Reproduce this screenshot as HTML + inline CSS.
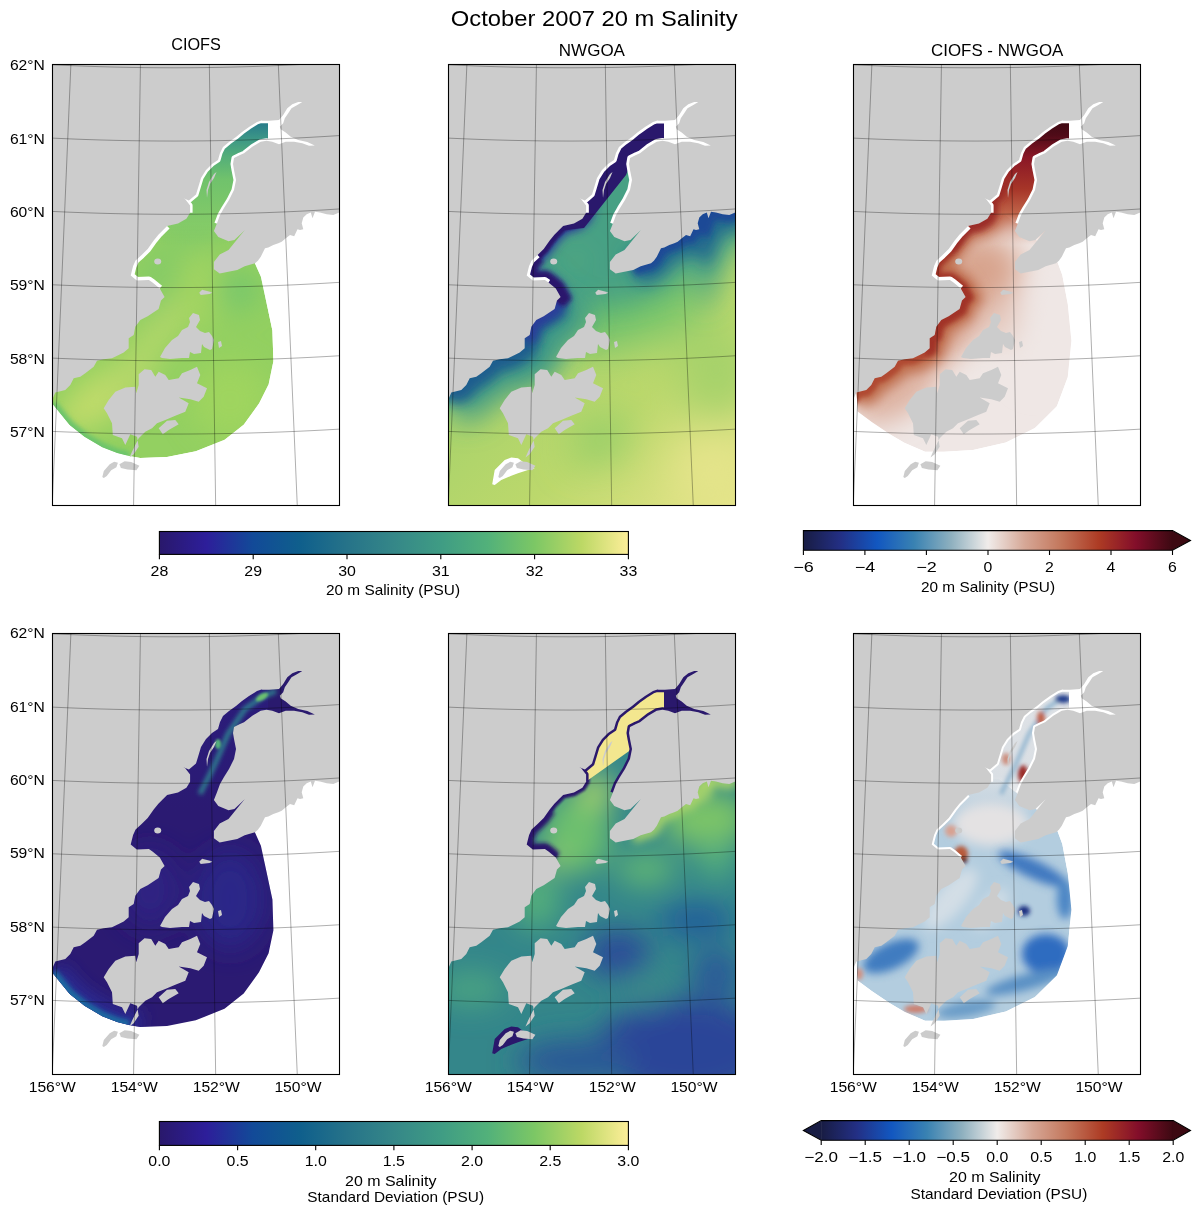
<!DOCTYPE html><html><head><meta charset="utf-8"><style>html,body{margin:0;padding:0;background:#fff;}body{width:1200px;height:1214px;overflow:hidden;}svg{display:block;font-family:"Liberation Sans",sans-serif;}</style></head><body>
<svg width="1200" height="1214" viewBox="0 0 1200 1214">
<defs>
<linearGradient id="cmH" x1="0" y1="0" x2="1" y2="0">
<stop offset="0.0" stop-color="#29186b"/>
<stop offset="0.1" stop-color="#2d1e9a"/>
<stop offset="0.2" stop-color="#124a98"/>
<stop offset="0.3" stop-color="#0f5f8c"/>
<stop offset="0.4" stop-color="#267389"/>
<stop offset="0.5" stop-color="#358788"/>
<stop offset="0.6" stop-color="#3f9c84"/>
<stop offset="0.7" stop-color="#52b17a"/>
<stop offset="0.8" stop-color="#7cc765"/>
<stop offset="0.9" stop-color="#bcd865"/>
<stop offset="1.0" stop-color="#fdee99"/>
</linearGradient>
<linearGradient id="cmB" x1="0" y1="0" x2="1" y2="0">
<stop offset="0.0" stop-color="#181c43"/>
<stop offset="0.1" stop-color="#232f84"/>
<stop offset="0.2" stop-color="#1257c0"/>
<stop offset="0.3" stop-color="#3982b2"/>
<stop offset="0.4" stop-color="#8eb0bf"/>
<stop offset="0.5" stop-color="#f0ecea"/>
<stop offset="0.6" stop-color="#d6a796"/>
<stop offset="0.7" stop-color="#c3765b"/>
<stop offset="0.8" stop-color="#ad3b24"/>
<stop offset="0.9" stop-color="#830e2a"/>
<stop offset="1.0" stop-color="#3c0912"/>
</linearGradient>
<clipPath id="clipP"><rect x="52.5" y="64.5" width="287.0" height="441.0"/></clipPath>
<g id="land" fill="#cccccc" stroke="none">
<path d="M52.0,400.3 L55.3,392.5 L65.3,390.0 L70.3,385.0 L73.7,378.3 L80.3,376.7 L85.3,373.3 L93.7,366.7 L97.0,360.8 L103.7,359.2 L112.0,358.3 L118.7,355.0 L123.7,352.5 L128.7,348.3 L128.7,338.3 L133.7,335.0 L135.3,326.7 L140.3,320.0 L147.7,316.3 L158.6,309.1 L161.0,300.6 L164.6,297.0 L159.8,288.5 L152.5,282.4 L148.9,280.0 L136.8,280.5 L130.7,275.6 L133.1,266.0 L135.6,260.5 L141.6,255.1 L147.7,249.0 L153.7,240.5 L158.6,234.5 L167.1,226.0 L178.0,223.6 L186.4,218.7 L190.1,212.7 L190.1,205.4 L185.2,199.3 L174.3,193.3 L182.8,198.1 L188.9,200.6 L196.0,194.5 L198.0,188.0 L201.0,178.0 L206.0,170.0 L212.0,164.0 L218.0,160.0 L220.0,153.0 L223.0,147.0 L229.0,142.0 L236.0,137.0 L242.0,132.0 L249.0,127.0 L257.0,122.0 L263.0,120.0 L259.8,118.8 L262.3,120.8 L269.0,120.8 L279.0,120.0 L283.2,115.0 L287.3,108.3 L292.3,104.2 L298.2,102.1 L302.3,102.1 L297.3,105.0 L291.5,108.3 L288.2,113.3 L284.8,118.3 L283.2,123.3 L279.8,126.7 L280.7,129.2 L285.7,132.5 L290.7,136.7 L298.2,140.0 L307.3,142.1 L314.8,145.4 L309.0,145.8 L302.3,143.3 L294.0,141.7 L285.7,141.7 L279.0,144.2 L272.3,141.7 L266.5,140.8 L260.7,141.7 L252.3,146.7 L244.0,153.3 L240.0,155.0 L234.0,158.0 L233.0,164.0 L234.0,170.0 L236.0,180.0 L234.0,190.0 L229.0,200.0 L224.0,208.0 L220.0,215.0 L216.8,223.7 L213.9,231.1 L218.3,236.9 L228.5,241.3 L234.4,239.9 L244.7,230.3 L240.3,235.5 L234.4,242.8 L228.5,250.1 L219.7,254.5 L213.9,261.9 L213.9,269.2 L219.7,273.6 L227.1,272.1 L237.3,269.9 L244.7,266.3 L255.0,263.3 L257.9,260.8 L260.8,256.7 L262.5,253.3 L265.0,248.3 L268.3,247.5 L273.3,245.0 L278.3,243.3 L281.7,241.7 L285.8,238.3 L290.0,235.0 L294.2,236.2 L297.5,229.2 L300.0,230.0 L303.3,229.2 L301.7,223.3 L303.3,217.5 L306.7,214.2 L310.8,212.5 L312.5,218.3 L315.0,211.7 L320.0,212.5 L326.7,214.2 L333.3,215.0 L339.2,212.5 L341.2,212.1 L346,209 L346,58 L46,58 L46,400 Z"/>
<path d="M160.0,357.0 L165.0,348.0 L172.0,340.0 L178.0,336.0 L182.0,330.0 L188.0,327.0 L190.0,322.0 L189.0,318.0 L193.0,313.0 L199.0,315.0 L200.0,320.0 L196.0,327.0 L200.0,331.0 L205.0,333.0 L209.0,332.0 L212.0,336.0 L214.0,340.0 L212.0,349.0 L210.0,350.0 L204.0,347.0 L202.0,344.0 L201.0,353.0 L194.0,354.0 L190.0,352.0 L189.0,358.0 L182.0,358.0 L170.0,359.0 L162.0,358.0 Z"/>
<path d="M103.7,408.3 L108.7,400.0 L115.3,391.7 L125.3,387.5 L135.3,386.7 L136.2,393.3 L138.7,385.0 L138.7,374.2 L144.5,369.2 L151.2,370.0 L155.3,376.7 L158.7,371.7 L165.3,375.0 L168.7,380.0 L178.7,378.3 L182.0,373.3 L190.3,370.0 L197.0,366.7 L200.3,375.0 L197.0,383.3 L207.0,388.3 L203.7,396.7 L198.7,401.7 L190.3,399.2 L178.7,397.5 L188.7,403.3 L185.3,411.7 L175.3,415.8 L165.3,420.0 L157.0,423.3 L152.0,428.3 L145.3,431.7 L138.7,438.3 L135.3,445.0 L132.0,451.7 L129.5,457.5 L133.7,454.2 L138.7,446.7 L137.0,436.7 L130.3,434.2 L125.3,445.0 L122.0,438.3 L112.8,435.0 L112.0,423.3 L107.0,413.3 Z"/>
<path d="M158.7,428.3 L167.0,420.8 L175.3,420.0 L178.7,424.2 L168.7,430.0 L162.8,434.2 Z"/>
<path d="M218.0,342.0 L221.0,341.0 L222.0,346.0 L219.0,348.0 Z"/>
<path d="M102.3,476.9 L103.8,470.9 L109.7,464.3 L114.2,461.8 L117.9,462.8 L116.4,467.2 L111.2,470.2 L106.8,476.1 L103.8,478.1 Z"/>
<path d="M119.4,464.3 L124.6,461.3 L131.2,462.0 L139.4,465.8 L136.4,470.2 L127.5,469.5 L120.9,468.0 Z"/>
<path d="M199.2,292.7 L202.1,289.7 L208.0,291.2 L212.4,292.7 L209.5,294.1 L200.7,294.9 Z"/>
<path d="M207.0,198.0 L208.0,190.0 L210.0,184.0 L214.0,178.0 L216.5,172.0 L214.0,174.0 L209.0,182.0 L206.5,190.0 Z"/>
<ellipse cx="157.7" cy="261.5" rx="3.5" ry="3"/>
</g>
<g id="grid" fill="none" stroke="#000" stroke-opacity="0.45" stroke-width="0.7">
<path d="M40,64.1087057744644 L55,64.89042656634956 L70,65.57909749300643 L85,66.17479782385999 L100,66.67759605434821 L115,67.08754994538504 L130,67.40470655659601 L145,67.6291022733576 L160,67.76076282768372 L175,67.79970331298682 L190,67.7459281927313 L205,67.59943130299143 L220,67.36019584891801 L235,67.02819439511086 L250,66.6033888498755 L265,66.08573044335935 L280,65.47515969951746 L295,64.7716064018905 L310,63.97498955313222 L325,63.085217328242834 L340,62.102187021440386 L355,61.02578498659841"/>
<path d="M40,137.46701610495984 L55,138.22577323316955 L70,138.89422564287133 L85,139.4724458156429 L100,139.96049638644763 L115,140.35843017763273 L130,140.66629022755797 L145,140.88410981389325 L160,141.01191247161887 L175,141.04971200574346 L190,140.99751249876272 L205,140.85530831286314 L220,140.62308408687886 L235,140.3008147279911 L250,139.88846539816586 L265,139.38599149530955 L280,138.79333862911926 L295,138.1104425915969 L310,137.33722932219234 L325,136.47361486752652 L340,135.51950533564695 L355,134.47479684475684"/>
<path d="M40,210.81914733313488 L55,211.55625303162742 L70,212.2056413285968 L85,212.76737867171823 L100,213.2415224857873 L115,213.62812120212993 L130,213.92721428337336 L145,214.13883224360825 L160,214.26299666396335 L175,214.29972020361447 L190,214.24900660623962 L205,214.11085070192803 L220,213.88523840454263 L235,213.57214670453914 L250,213.17154365722672 L265,212.6833883664608 L280,212.10763096374467 L295,211.44421258271996 L310,210.6930653290092 L325,209.8541122453803 L340,208.92726727218678 L355,207.91243520303988"/>
<path d="M40,284.16561389936396 L55,284.8822709228184 L70,285.51365330186945 L85,286.0598221023283 L100,286.52083010132446 L115,286.8967218128528 L130,287.1875335092941 L145,287.3932932389321 L160,287.51402083948915 L175,287.54972794769174 L190,287.50041800487907 L205,287.3660862586644 L220,287.1467197606412 L235,286.8422973601432 L250,286.452789694044 L265,285.97815917258595 L280,285.41835996122245 L295,284.773337958457 L310,284.043030769647 L325,283.2273676767486 L340,282.32626960396556 L355,281.339649079262"/>
<path d="M40,357.50687464618795 L55,358.20418813161723 L70,358.81853698881105 L85,359.34997746794943 L100,359.79855818705346 L115,360.1643201542638 L130,360.44729678660997 L145,360.64751392528797 L160,360.7649898474683 L175,360.7997352746397 L190,360.7517533775026 L205,360.62103977741754 L220,360.40758254440425 L235,360.11136219169975 L250,359.73235166685754 L265,359.27051633938754 L280,358.72581398492093 L295,358.09819476587927 L310,357.3876012086348 L325,356.59396817712786 L340,355.71722284292446 L355,354.7572846516691"/>
<path d="M40,430.84334013578655 L55,431.5223278984886 L70,432.12053886964895 L85,432.63802497745064 L100,433.0748311067882 L115,433.43099511876926 L130,433.7065478671402 L145,433.90151321166377 L160,434.0159080284525 L175,434.0497422172775 L190,434.0030187058519 L205,433.8757334510965 L220,433.6678754373929 L235,433.3794266718128 L250,433.0103621763301 L265,432.5606499769983 L280,432.0302510900883 L295,431.4191195051685 L310,430.72720216511516 L325,429.95443894302434 L340,429.10076261601444 L355,428.1660988358767"/>
<line x1="71.3" y1="54.5" x2="51.8" y2="515.5"/>
<line x1="140.6" y1="54.5" x2="133.4" y2="515.5"/>
<line x1="209.2" y1="54.5" x2="215.8" y2="515.5"/>
<line x1="277.9" y1="54.5" x2="297.7" y2="515.5"/>
</g>
</defs>
<defs>
<filter id="b1" filterUnits="userSpaceOnUse" x="-200" y="-200" width="800" height="900"><feGaussianBlur stdDeviation="1"/></filter>
<filter id="b2" filterUnits="userSpaceOnUse" x="-200" y="-200" width="800" height="900"><feGaussianBlur stdDeviation="2"/></filter>
<filter id="b3" filterUnits="userSpaceOnUse" x="-200" y="-200" width="800" height="900"><feGaussianBlur stdDeviation="3"/></filter>
<filter id="b4" filterUnits="userSpaceOnUse" x="-200" y="-200" width="800" height="900"><feGaussianBlur stdDeviation="4"/></filter>
<filter id="b5" filterUnits="userSpaceOnUse" x="-200" y="-200" width="800" height="900"><feGaussianBlur stdDeviation="5"/></filter>
<filter id="b6" filterUnits="userSpaceOnUse" x="-200" y="-200" width="800" height="900"><feGaussianBlur stdDeviation="6"/></filter>
<filter id="b8" filterUnits="userSpaceOnUse" x="-200" y="-200" width="800" height="900"><feGaussianBlur stdDeviation="8"/></filter>
<filter id="b10" filterUnits="userSpaceOnUse" x="-200" y="-200" width="800" height="900"><feGaussianBlur stdDeviation="10"/></filter>
<filter id="b14" filterUnits="userSpaceOnUse" x="-200" y="-200" width="800" height="900"><feGaussianBlur stdDeviation="14"/></filter>
<filter id="b20" filterUnits="userSpaceOnUse" x="-200" y="-200" width="800" height="900"><feGaussianBlur stdDeviation="20"/></filter>
<clipPath id="cDom1"><path d="M46,380 L52.6,404 L69.7,425.0 L84.5,436.8 L102.3,447.2 L117.2,453.1 L129.0,456.1 L140.2,458.0 L167.0,457.0 L195.8,451.3 L224.5,439.8 L243.7,424.4 L259.0,403.3 L268.6,384.2 L273.4,361.2 L272.4,330.5 L266.7,303.7 L260.9,276.8 L253.3,259.6 L250,245 L240,205 L150,205 L46,300 Z"/></clipPath>
<clipPath id="cDom3"><path d="M52,384.3 L55.6,391.6 L56.6,411.6 L70.7,422 L88.5,433.9 L103.3,442.8 L124.1,451.7 L143.0,451.7 L172.1,449.9 L204.9,442.6 L234.0,428.0 L255.9,406.2 L266.8,377.1 L270.4,340.7 L266.8,304.3 L261.3,275.1 L255.9,260.6 L234.0,238.7 L197.6,209.6 L161.2,209.6 Z"/></clipPath>
<clipPath id="cCH1"><path d="M185.6,225.1 L188.0,218.7 L191.2,210.8 L197.5,195.0 L203.8,179.2 L210.2,169.7 L221.2,163.3 L222.8,150.7 L229.2,142.7 L238.7,138.0 L246.6,130.1 L254.5,126.1 L268.7,126.1 L276.7,124.5 L270.3,130.1 L264.0,134.8 L252.9,139.6 L240.2,147.5 L232.3,157.0 L230.7,163.3 L232.3,176.0 L229.2,195.0 L222.8,207.7 L218.1,217.2 L215.7,225.1 Z"/></clipPath>
<clipPath id="cCH2"><path d="M190.5,220.0 L191.0,208.0 L195.0,196.0 L202.0,188.0 L201.0,182.0 L204.0,176.0 L212.0,171.0 L219.0,164.0 L221.0,153.0 L228.0,145.0 L234.0,140.0 L242.0,134.0 L251.0,127.5 L269.0,127.5 L268.0,135.0 L262.0,138.0 L253.0,140.0 L249.0,146.0 L242.0,153.0 L234.0,158.0 L232.0,161.0 L233.0,167.0 L232.0,176.0 L224.0,188.0 L212.0,202.0 L202.0,210.0 L194.0,216.0 Z"/></clipPath>
<clipPath id="cUp"><path d="M150,245 L250,245 L250,150 L268,150 L268,100 L150,100 Z"/></clipPath>
<clipPath id="cUPW"><path d="M268,112 L300,95 L340,95 L340,160 L268,150 Z"/></clipPath>
<linearGradient id="g2base" gradientUnits="userSpaceOnUse" x1="150" y1="200" x2="330" y2="500">
<stop offset="0" stop-color="#1d6a8c"/>
<stop offset="0.22" stop-color="#3c9a86"/>
<stop offset="0.45" stop-color="#62bb70"/>
<stop offset="0.7" stop-color="#9ed36a"/>
<stop offset="1" stop-color="#e4e48c"/>
</linearGradient>
<linearGradient id="g1ch" gradientUnits="userSpaceOnUse" x1="0" y1="125" x2="0" y2="225">
<stop offset="0" stop-color="#2f8489"/>
<stop offset="0.35" stop-color="#44a084"/>
<stop offset="0.7" stop-color="#64bc72"/>
<stop offset="1" stop-color="#7cc76a"/>
</linearGradient>
<linearGradient id="g3ch" gradientUnits="userSpaceOnUse" x1="0" y1="120" x2="0" y2="250">
<stop offset="0" stop-color="#3e0a15"/>
<stop offset="0.25" stop-color="#6a1020"/>
<stop offset="0.5" stop-color="#952a25"/>
<stop offset="0.8" stop-color="#b55638"/>
<stop offset="1" stop-color="#c98a70"/>
</linearGradient>
</defs>
<defs>
<linearGradient id="g1up" gradientUnits="userSpaceOnUse" x1="0" y1="125" x2="0" y2="245">
<stop offset="0" stop-color="#2b7f8a" stop-opacity="1"/>
<stop offset="0.1" stop-color="#3a9487" stop-opacity="1"/>
<stop offset="0.25" stop-color="#52ad7a" stop-opacity="1"/>
<stop offset="0.45" stop-color="#70c26c" stop-opacity="1"/>
<stop offset="0.8" stop-color="#82ca68" stop-opacity="1"/>
<stop offset="1" stop-color="#86cb66" stop-opacity="0"/>
</linearGradient>
<linearGradient id="g3up" gradientUnits="userSpaceOnUse" x1="0" y1="120" x2="0" y2="245">
<stop offset="0" stop-color="#3c0912" stop-opacity="1"/>
<stop offset="0.12" stop-color="#4f0b18" stop-opacity="1"/>
<stop offset="0.3" stop-color="#8a1726" stop-opacity="1"/>
<stop offset="0.55" stop-color="#a63528" stop-opacity="1"/>
<stop offset="0.75" stop-color="#c0654a" stop-opacity="1"/>
<stop offset="1" stop-color="#d49a84" stop-opacity="0"/>
</linearGradient>
<linearGradient id="g5up" gradientUnits="userSpaceOnUse" x1="0" y1="100" x2="0" y2="250">
<stop offset="0" stop-color="#f3e78f" stop-opacity="1"/>
<stop offset="1" stop-color="#f3e78f" stop-opacity="1"/>
</linearGradient>
<linearGradient id="g6up" gradientUnits="userSpaceOnUse" x1="0" y1="120" x2="0" y2="245">
<stop offset="0" stop-color="#dfe2e6" stop-opacity="1"/>
<stop offset="0.7" stop-color="#dadfe4" stop-opacity="1"/>
<stop offset="1" stop-color="#e0e0e2" stop-opacity="0"/>
</linearGradient>
<linearGradient id="g4up" gradientUnits="userSpaceOnUse" x1="0" y1="120" x2="0" y2="245">
<stop offset="0" stop-color="#2b1c7a" stop-opacity="1"/>
<stop offset="0.7" stop-color="#2b1b76" stop-opacity="1"/>
<stop offset="1" stop-color="#2b1a72" stop-opacity="0"/>
</linearGradient>
</defs>
<g transform="translate(0,0)"><g clip-path="url(#clipP)">
<rect x="52.5" y="64.5" width="287.0" height="441.0" fill="#fff"/>
<g clip-path="url(#cDom1)">
<path d="M46,380 L52.6,404 L69.7,425.0 L84.5,436.8 L102.3,447.2 L117.2,453.1 L129.0,456.1 L140.2,458.0 L167.0,457.0 L195.8,451.3 L224.5,439.8 L243.7,424.4 L259.0,403.3 L268.6,384.2 L273.4,361.2 L272.4,330.5 L266.7,303.7 L260.9,276.8 L253.3,259.6 L250,245 L240,205 L150,205 L46,300 Z" fill="#93d061"/>
<g filter="url(#b14)">
<ellipse cx="105" cy="395" rx="55" ry="22" fill="#c2db6a" transform="rotate(-35 105 395)"/>
<ellipse cx="165" cy="290" rx="30" ry="45" fill="#86cb66"/>
<ellipse cx="195" cy="225" rx="30" ry="25" fill="#82ca68"/>
<ellipse cx="235" cy="290" rx="25" ry="20" fill="#76c66c"/>
<ellipse cx="230" cy="400" rx="40" ry="40" fill="#9fd45e"/>
<ellipse cx="150" cy="345" rx="75" ry="14" fill="#b4d76a" transform="rotate(-52 150 345)"/>
<ellipse cx="200" cy="290" rx="20" ry="40" fill="#a2d460"/>
</g>
<path d="M52.6,404 L69.7,425.0 L84.5,436.8 L102.3,447.2 L117.2,453.1 L129.0,456.1" fill="none" stroke="#6cc46c" stroke-width="9" filter="url(#b2)"/>
</g>
<path d="M150,245 L250,245 L250,150 L268,150 L268,100 L150,100 Z" fill="url(#g1up)"/>
<path d="M190.1,212.7 L190.1,205.4 L185.2,199.3 L174.3,193.3 L182.8,198.1 L188.9,200.6 L196.0,194.5 L198.0,188.0 L201.0,178.0 L206.0,170.0 L212.0,164.0 L218.0,160.0 L220.0,153.0 L223.0,147.0 L229.0,142.0 L236.0,137.0 L242.0,132.0 L249.0,127.0 L257.0,122.0 L263.0,120.0 L259.8,118.8 L262.3,120.8 L269.0,120.8 L279.0,120.0 L283.2,115.0 L287.3,108.3 L292.3,104.2 L298.2,102.1 L302.3,102.1 L297.3,105.0 L291.5,108.3 L288.2,113.3 L284.8,118.3 L283.2,123.3 L279.8,126.7 L280.7,129.2 L285.7,132.5 L290.7,136.7 L298.2,140.0 L307.3,142.1 L314.8,145.4 L309.0,145.8 L302.3,143.3 L294.0,141.7 L285.7,141.7 L279.0,144.2 L272.3,141.7 L266.5,140.8 L260.7,141.7 L252.3,146.7 L244.0,153.3 L240.0,155.0 L234.0,158.0 L233.0,164.0 L234.0,170.0 L236.0,180.0 L234.0,190.0 L229.0,200.0 L224.0,208.0 L220.0,215.0 L216.8,223.7" fill="none" stroke="#fff" stroke-width="5" stroke-linejoin="round"/>
<path d="M159.8,288.5 L152.5,282.4 L148.9,280.0 L136.8,280.5 L130.7,275.6 L133.1,266.0 L135.6,260.5 L141.6,255.1 L147.7,249.0 L153.7,240.5 L158.6,234.5 L167.1,226.0" fill="none" stroke="#fff" stroke-width="7" stroke-linejoin="round"/>
<path d="M268,112 L300,95 L340,95 L340,160 L268,150 Z" fill="#fff"/>
<use href="#land"/>
<use href="#grid"/>
</g>
<rect x="52.5" y="64.5" width="287.0" height="441.0" fill="none" stroke="#000" stroke-width="1.1"/>
</g>
<linearGradient id="g2b" gradientUnits="userSpaceOnUse" x1="150" y1="300" x2="340" y2="505">
<stop offset="0" stop-color="#a6d26a"/>
<stop offset="0.5" stop-color="#bcd86c"/>
<stop offset="1" stop-color="#e6e48a"/>
</linearGradient>
<g transform="translate(396,0)"><g clip-path="url(#clipP)">
<rect x="52.5" y="64.5" width="287.0" height="441.0" fill="#fff"/>
<rect x="52.5" y="64.5" width="287.0" height="441.0" fill="url(#g2b)"/>
<g filter="url(#b20)">
<ellipse cx="250" cy="290" rx="60" ry="50" fill="#78c66a"/>
<ellipse cx="205" cy="300" rx="40" ry="50" fill="#6cc06c"/>
<ellipse cx="320" cy="370" rx="40" ry="50" fill="#a6d26a"/>
<ellipse cx="205" cy="440" rx="30" ry="18" fill="#88cb68" transform="rotate(-30 205 440)"/>
<ellipse cx="315" cy="470" rx="40" ry="40" fill="#e4e48a"/>
</g>
<path d="M112.0,358.3 L118.7,355.0 L123.7,352.5 L128.7,348.3 L128.7,338.3 L133.7,335.0 L135.3,326.7 L140.3,320.0 L147.7,316.3 L158.6,309.1 L161.0,300.6 L164.6,297.0 L159.8,288.5 L152.5,282.4 L148.9,280.0 L136.8,280.5 L130.7,275.6 L133.1,266.0 L135.6,260.5 L141.6,255.1 L147.7,249.0 L153.7,240.5 L158.6,234.5 L167.1,226.0 L178.0,223.6 L186.4,218.7 L190.1,212.7 L190.1,205.4 L185.2,199.3 L174.3,193.3 L182.8,198.1 L188.9,200.6 L196.0,194.5 L198.0,188.0 L201.0,178.0 L206.0,170.0 L212.0,164.0 L218.0,160.0 L220.0,153.0 L223.0,147.0 L229.0,142.0 L236.0,137.0 L242.0,132.0 L249.0,127.0 L257.0,122.0 L263.0,120.0 L259.8,118.8 L262.3,120.8 L269.0,120.8 L279.0,120.0 L283.2,115.0 L287.3,108.3 L292.3,104.2 L298.2,102.1 L302.3,102.1 L297.3,105.0 L291.5,108.3 L288.2,113.3 L284.8,118.3 L283.2,123.3 L279.8,126.7 L280.7,129.2 L285.7,132.5 L290.7,136.7 L298.2,140.0 L307.3,142.1 L314.8,145.4 L309.0,145.8 L302.3,143.3 L294.0,141.7 L285.7,141.7 L279.0,144.2 L272.3,141.7 L266.5,140.8 L260.7,141.7 L252.3,146.7 L244.0,153.3 L240.0,155.0 L234.0,158.0 L233.0,164.0 L234.0,170.0 L236.0,180.0 L234.0,190.0 L229.0,200.0 L224.0,208.0 L220.0,215.0 L216.8,223.7 L213.9,231.1 L218.3,236.9 L228.5,241.3 L234.4,239.9 L244.7,230.3 L240.3,235.5 L234.4,242.8 L228.5,250.1 L219.7,254.5 L213.9,261.9 L213.9,269.2 L219.7,273.6 L227.1,272.1 L237.3,269.9 L244.7,266.3 L255.0,263.3 L257.9,260.8 L260.8,256.7 L262.5,253.3 L265.0,248.3 L268.3,247.5 L273.3,245.0 L278.3,243.3 L281.7,241.7 L285.8,238.3 L290.0,235.0 L294.2,236.2 L297.5,229.2 L300.0,230.0 L303.3,229.2 L301.7,223.3 L303.3,217.5 L306.7,214.2 L310.8,212.5 L312.5,218.3 L315.0,211.7 L320.0,212.5 L326.7,214.2 L333.3,215.0 L339.2,212.5 L341.2,212.1 L346,209" fill="none" stroke="#46a084" stroke-width="60" filter="url(#b14)"/>
<path d="M52.0,400.3 L55.3,392.5 L65.3,390.0 L70.3,385.0 L73.7,378.3 L80.3,376.7 L85.3,373.3 L93.7,366.7 L97.0,360.8 L103.7,359.2 L112.0,358.3 L118.7,355.0 L123.7,352.5 L128.7,348.3 L128.7,338.3 L133.7,335.0 L135.3,326.7 L140.3,320.0 L147.7,316.3 L158.6,309.1 L161.0,300.6 L164.6,297.0" fill="none" stroke="#3f9a86" stroke-width="64" filter="url(#b14)"/>
<path d="M52.0,400.3 L55.3,392.5 L65.3,390.0 L70.3,385.0 L73.7,378.3 L80.3,376.7 L85.3,373.3 L93.7,366.7 L97.0,360.8 L103.7,359.2 L112.0,358.3 L118.7,355.0 L123.7,352.5 L128.7,348.3 L128.7,338.3 L133.7,335.0 L135.3,326.7 L140.3,320.0 L147.7,316.3 L158.6,309.1 L161.0,300.6 L164.6,297.0" fill="none" stroke="#1c5d8e" stroke-width="24" filter="url(#b6)"/>
<path d="M237.3,269.9 L244.7,266.3 L255.0,263.3 L257.9,260.8 L260.8,256.7 L262.5,253.3 L265.0,248.3 L268.3,247.5 L273.3,245.0 L278.3,243.3 L281.7,241.7 L285.8,238.3 L290.0,235.0 L294.2,236.2 L297.5,229.2 L300.0,230.0 L303.3,229.2 L301.7,223.3 L303.3,217.5 L306.7,214.2 L310.8,212.5 L312.5,218.3 L315.0,211.7 L320.0,212.5 L326.7,214.2 L333.3,215.0 L339.2,212.5 L341.2,212.1 L346,209" fill="none" stroke="#20688e" stroke-width="34" filter="url(#b8)"/>
<path d="M237.3,269.9 L244.7,266.3 L255.0,263.3 L257.9,260.8 L260.8,256.7 L262.5,253.3 L265.0,248.3 L268.3,247.5 L273.3,245.0 L278.3,243.3 L281.7,241.7 L285.8,238.3 L290.0,235.0 L294.2,236.2 L297.5,229.2 L300.0,230.0 L303.3,229.2 L301.7,223.3 L303.3,217.5 L306.7,214.2 L310.8,212.5 L312.5,218.3 L315.0,211.7 L320.0,212.5 L326.7,214.2 L333.3,215.0 L339.2,212.5 L341.2,212.1 L346,209" fill="none" stroke="#1c4a96" stroke-width="14" filter="url(#b3)"/>
<path d="M128.7,338.3 L133.7,335.0 L135.3,326.7 L140.3,320.0 L147.7,316.3 L158.6,309.1 L161.0,300.6 L164.6,297.0 L159.8,288.5 L152.5,282.4 L148.9,280.0 L136.8,280.5 L130.7,275.6 L133.1,266.0 L135.6,260.5 L141.6,255.1 L147.7,249.0 L153.7,240.5 L158.6,234.5 L167.1,226.0 L178.0,223.6 L186.4,218.7 L190.1,212.7 L190.1,205.4 L185.2,199.3 L174.3,193.3 L182.8,198.1 L188.9,200.6 L196.0,194.5 L198.0,188.0 L201.0,178.0 L206.0,170.0 L212.0,164.0 L218.0,160.0 L220.0,153.0 L223.0,147.0" fill="none" stroke="#2b3d9a" stroke-width="16" filter="url(#b4)"/>
<path d="M161.0,300.6 L164.6,297.0 L159.8,288.5 L152.5,282.4 L148.9,280.0 L136.8,280.5 L130.7,275.6 L133.1,266.0 L135.6,260.5 L141.6,255.1 L147.7,249.0 L153.7,240.5 L158.6,234.5 L167.1,226.0 L178.0,223.6 L186.4,218.7 L190.1,212.7 L190.1,205.4 L185.2,199.3 L174.3,193.3 L182.8,198.1 L188.9,200.6 L196.0,194.5 L198.0,188.0 L201.0,178.0 L206.0,170.0 L212.0,164.0 L218.0,160.0 L220.0,153.0 L223.0,147.0" fill="none" stroke="#2a186c" stroke-width="10" filter="url(#b1)"/>
<path d="M161.0,300.6 L164.6,297.0 L159.8,288.5 L152.5,282.4 L148.9,280.0 L136.8,280.5 L130.7,275.6 L133.1,266.0 L135.6,260.5 L141.6,255.1" fill="none" stroke="#2a186c" stroke-width="18" filter="url(#b2)"/>
<path d="M150,232 L188,228 L230,175 L236,160 L268,150 L268,100 L150,100 Z" fill="#2a186c"/>
<path d="M190.1,212.7 L190.1,205.4 L185.2,199.3 L174.3,193.3 L182.8,198.1 L188.9,200.6 L196.0,194.5 L198.0,188.0 L201.0,178.0 L206.0,170.0 L212.0,164.0 L218.0,160.0 L220.0,153.0 L223.0,147.0 L229.0,142.0 L236.0,137.0 L242.0,132.0 L249.0,127.0 L257.0,122.0 L263.0,120.0 L259.8,118.8 L262.3,120.8 L269.0,120.8 L279.0,120.0 L283.2,115.0 L287.3,108.3 L292.3,104.2 L298.2,102.1 L302.3,102.1 L297.3,105.0 L291.5,108.3 L288.2,113.3 L284.8,118.3 L283.2,123.3 L279.8,126.7 L280.7,129.2 L285.7,132.5 L290.7,136.7 L298.2,140.0 L307.3,142.1 L314.8,145.4 L309.0,145.8 L302.3,143.3 L294.0,141.7 L285.7,141.7 L279.0,144.2 L272.3,141.7 L266.5,140.8 L260.7,141.7 L252.3,146.7 L244.0,153.3 L240.0,155.0 L234.0,158.0 L233.0,164.0 L234.0,170.0 L236.0,180.0 L234.0,190.0 L229.0,200.0 L224.0,208.0 L220.0,215.0 L216.8,223.7" fill="none" stroke="#fff" stroke-width="5.5" stroke-linejoin="round"/>
<path d="M152.5,282.4 L148.9,280.0 L136.8,280.5 L130.7,275.6 L133.1,266.0 L135.6,260.5 L141.6,255.1" fill="none" stroke="#fff" stroke-width="6" stroke-linejoin="round"/>
<path d="M268,112 L300,95 L340,95 L340,160 L268,150 Z" fill="#fff"/>
<path d="M96.2,484.2 L98.7,470.0 L108.7,460.0 L115.3,457.5 L122.0,458.3 L128.7,463.3 L135.3,466.7 L138.7,468.3 L132.0,470.0 L122.0,473.3 L115.3,475.8 L105.3,480.0 L98.7,485.0 Z" fill="#fff"/>
<use href="#land"/>
<use href="#grid"/>
</g>
<rect x="52.5" y="64.5" width="287.0" height="441.0" fill="none" stroke="#000" stroke-width="1.1"/>
</g>
<g transform="translate(801,0)"><g clip-path="url(#clipP)">
<rect x="52.5" y="64.5" width="287.0" height="441.0" fill="#fff"/>
<g clip-path="url(#cDom3)">
<path d="M52,384.3 L55.6,391.6 L56.6,411.6 L70.7,422 L88.5,433.9 L103.3,442.8 L124.1,451.7 L143.0,451.7 L172.1,449.9 L204.9,442.6 L234.0,428.0 L255.9,406.2 L266.8,377.1 L270.4,340.7 L266.8,304.3 L261.3,275.1 L255.9,260.6 L234.0,238.7 L197.6,209.6 L161.2,209.6 Z" fill="#efe7e5"/>
<g filter="url(#b14)">
<ellipse cx="180" cy="270" rx="40" ry="35" fill="#d8a48e"/>
<ellipse cx="140" cy="335" rx="48" ry="24" fill="#d69e88" transform="rotate(-40 140 335)"/>
<ellipse cx="95" cy="395" rx="45" ry="20" fill="#dcae9c" transform="rotate(-30 95 395)"/>
<ellipse cx="205" cy="320" rx="22" ry="25" fill="#e4c6ba"/>
<ellipse cx="240" cy="340" rx="28" ry="45" fill="#efe7e5"/>
</g>
<path d="M52.0,400.3 L55.3,392.5 L65.3,390.0 L70.3,385.0 L73.7,378.3 L80.3,376.7 L85.3,373.3 L93.7,366.7 L97.0,360.8 L103.7,359.2 L112.0,358.3 L118.7,355.0 L123.7,352.5 L128.7,348.3 L128.7,338.3 L133.7,335.0 L135.3,326.7 L140.3,320.0 L147.7,316.3 L158.6,309.1 L161.0,300.6 L164.6,297.0 L159.8,288.5 L152.5,282.4 L148.9,280.0 L136.8,280.5 L130.7,275.6 L133.1,266.0 L135.6,260.5 L141.6,255.1 L147.7,249.0 L153.7,240.5 L158.6,234.5 L167.1,226.0 L178.0,223.6 L186.4,218.7 L190.1,212.7 L190.1,205.4 L185.2,199.3 L174.3,193.3" fill="none" stroke="#c07050" stroke-width="30" filter="url(#b6)"/>
<path d="M52.0,400.3 L55.3,392.5 L65.3,390.0 L70.3,385.0 L73.7,378.3 L80.3,376.7 L85.3,373.3 L93.7,366.7 L97.0,360.8 L103.7,359.2 L112.0,358.3 L118.7,355.0 L123.7,352.5 L128.7,348.3 L128.7,338.3 L133.7,335.0 L135.3,326.7 L140.3,320.0 L147.7,316.3 L158.6,309.1 L161.0,300.6 L164.6,297.0 L159.8,288.5 L152.5,282.4 L148.9,280.0 L136.8,280.5 L130.7,275.6 L133.1,266.0 L135.6,260.5 L141.6,255.1 L147.7,249.0 L153.7,240.5 L158.6,234.5 L167.1,226.0 L178.0,223.6 L186.4,218.7 L190.1,212.7 L190.1,205.4 L185.2,199.3 L174.3,193.3" fill="none" stroke="#b04a30" stroke-width="12" filter="url(#b2)"/>
<path d="M123.7,352.5 L128.7,348.3 L128.7,338.3 L133.7,335.0 L135.3,326.7 L140.3,320.0 L147.7,316.3 L158.6,309.1 L161.0,300.6 L164.6,297.0 L159.8,288.5 L152.5,282.4 L148.9,280.0 L136.8,280.5 L130.7,275.6 L133.1,266.0 L135.6,260.5 L141.6,255.1 L147.7,249.0 L153.7,240.5 L158.6,234.5 L167.1,226.0 L178.0,223.6 L186.4,218.7 L190.1,212.7 L190.1,205.4 L185.2,199.3 L174.3,193.3" fill="none" stroke="#a03228" stroke-width="14" filter="url(#b3)"/>
</g>
<path d="M150,245 L250,245 L250,150 L268,150 L268,100 L150,100 Z" fill="url(#g3up)"/>
<path d="M147.7,249.0 L153.7,240.5 L158.6,234.5 L167.1,226.0 L178.0,223.6 L186.4,218.7 L190.1,212.7 L190.1,205.4 L185.2,199.3 L174.3,193.3 L182.8,198.1 L188.9,200.6 L196.0,194.5 L198.0,188.0 L201.0,178.0" fill="none" stroke="#9a2a26" stroke-width="14" filter="url(#b3)"/>
<path d="M190.1,212.7 L190.1,205.4 L185.2,199.3 L174.3,193.3 L182.8,198.1 L188.9,200.6 L196.0,194.5 L198.0,188.0 L201.0,178.0 L206.0,170.0 L212.0,164.0 L218.0,160.0 L220.0,153.0 L223.0,147.0 L229.0,142.0 L236.0,137.0 L242.0,132.0 L249.0,127.0 L257.0,122.0 L263.0,120.0 L259.8,118.8 L262.3,120.8 L269.0,120.8 L279.0,120.0 L283.2,115.0 L287.3,108.3 L292.3,104.2 L298.2,102.1 L302.3,102.1 L297.3,105.0 L291.5,108.3 L288.2,113.3 L284.8,118.3 L283.2,123.3 L279.8,126.7 L280.7,129.2 L285.7,132.5 L290.7,136.7 L298.2,140.0 L307.3,142.1 L314.8,145.4 L309.0,145.8 L302.3,143.3 L294.0,141.7 L285.7,141.7 L279.0,144.2 L272.3,141.7 L266.5,140.8 L260.7,141.7 L252.3,146.7 L244.0,153.3 L240.0,155.0 L234.0,158.0 L233.0,164.0 L234.0,170.0 L236.0,180.0 L234.0,190.0 L229.0,200.0 L224.0,208.0 L220.0,215.0 L216.8,223.7" fill="none" stroke="#fff" stroke-width="5" stroke-linejoin="round"/>
<path d="M159.8,288.5 L152.5,282.4 L148.9,280.0 L136.8,280.5 L130.7,275.6 L133.1,266.0 L135.6,260.5 L141.6,255.1 L147.7,249.0 L153.7,240.5 L158.6,234.5 L167.1,226.0" fill="none" stroke="#fff" stroke-width="7" stroke-linejoin="round"/>
<path d="M268,112 L300,95 L340,95 L340,160 L268,150 Z" fill="#fff"/>
<use href="#land"/>
<use href="#grid"/>
</g>
<rect x="52.5" y="64.5" width="287.0" height="441.0" fill="none" stroke="#000" stroke-width="1.1"/>
</g>
<g transform="translate(0,569)"><g clip-path="url(#clipP)">
<rect x="52.5" y="64.5" width="287.0" height="441.0" fill="#fff"/>
<path d="M46,380 L52.6,404 L69.7,425.0 L84.5,436.8 L102.3,447.2 L117.2,453.1 L129.0,456.1 L140.2,458.0 L167.0,457.0 L195.8,451.3 L224.5,439.8 L243.7,424.4 L259.0,403.3 L268.6,384.2 L273.4,361.2 L272.4,330.5 L266.7,303.7 L260.9,276.8 L253.3,259.6 L250,245 L240,205 L150,205 L46,300 Z" fill="#2b1a72"/>
<g clip-path="url(#cDom1)"><g filter="url(#b14)">
<ellipse cx="230" cy="330" rx="35" ry="50" fill="#2c2588"/>
<ellipse cx="150" cy="320" rx="30" ry="40" fill="#2d2382"/>
</g>
<path d="M52.6,404 L69.7,425.0 L84.5,436.8 L102.3,447.2 L117.2,453.1 L129.0,456.1 L140.2,458.0" fill="none" stroke="#2b2c92" stroke-width="30" filter="url(#b8)"/>
<path d="M52.6,404 L69.7,425.0 L84.5,436.8 L102.3,447.2 L117.2,453.1 L129.0,456.1" fill="none" stroke="#1f68a0" stroke-width="10" filter="url(#b2)"/>
</g>
<path d="M150,245 L250,245 L250,150 L268,150 L268,100 L150,100 Z" fill="url(#g4up)"/>
<path d="M268,112 L300,95 L340,95 L340,160 L268,150 Z" fill="#2a1a6e"/>
<path d="M200,225 L215,195 L228,165 L245,140 L262,128 L276,122" fill="none" stroke="#2f7a8e" stroke-width="5" filter="url(#b2)"/>
<ellipse cx="262" cy="128" rx="7" ry="3" fill="#6cc070" transform="rotate(-30 262 128)" filter="url(#b1)"/>
<ellipse cx="218" cy="175" rx="3" ry="5" fill="#52b07a" filter="url(#b1)"/>
<use href="#land"/>
<use href="#grid"/>
</g>
<rect x="52.5" y="64.5" width="287.0" height="441.0" fill="none" stroke="#000" stroke-width="1.1"/>
</g>
<g transform="translate(396,569)"><g clip-path="url(#clipP)">
<rect x="52.5" y="64.5" width="287.0" height="441.0" fill="#fff"/>
<rect x="52.5" y="64.5" width="287.0" height="441.0" fill="#34868a"/>
<g filter="url(#b14)">
<ellipse cx="290" cy="480" rx="90" ry="50" fill="#2a4598"/>
<ellipse cx="180" cy="492" rx="60" ry="22" fill="#2a5896"/>
<ellipse cx="222" cy="385" rx="32" ry="24" fill="#2a4c98"/>
<ellipse cx="300" cy="352" rx="38" ry="18" fill="#245e9a"/>
<ellipse cx="320" cy="405" rx="25" ry="25" fill="#2a5a98"/>
<ellipse cx="250" cy="420" rx="25" ry="20" fill="#3a8a88"/>
<ellipse cx="310" cy="250" rx="45" ry="28" fill="#7cc468"/>
<ellipse cx="250" cy="300" rx="30" ry="18" fill="#5eb476"/>
<ellipse cx="180" cy="265" rx="35" ry="40" fill="#6cbf6e"/>
<ellipse cx="200" cy="222" rx="18" ry="18" fill="#a8d46a"/>
<ellipse cx="140" cy="330" rx="25" ry="30" fill="#52ad7c"/>
<ellipse cx="75" cy="420" rx="35" ry="18" fill="#4aa282"/>
<ellipse cx="160" cy="290" rx="12" ry="10" fill="#a0d26a"/>
<ellipse cx="320" cy="290" rx="20" ry="20" fill="#52ad7c"/>
</g>
<path d="M159.8,288.5 L152.5,282.4 L148.9,280.0 L136.8,280.5 L130.7,275.6 L133.1,266.0 L135.6,260.5 L141.6,255.1 L147.7,249.0 L153.7,240.5 L158.6,234.5 L167.1,226.0 L178.0,223.6 L186.4,218.7 L190.1,212.7 L190.1,205.4 L185.2,199.3 L174.3,193.3 L182.8,198.1 L188.9,200.6 L196.0,194.5 L198.0,188.0 L201.0,178.0" fill="none" stroke="#2a186c" stroke-width="7" filter="url(#b1)"/>
<path d="M159.8,288.5 L152.5,282.4 L148.9,280.0 L136.8,280.5 L130.7,275.6 L133.1,266.0 L135.6,260.5 L141.6,255.1 L147.7,249.0 L153.7,240.5" fill="none" stroke="#2a186c" stroke-width="12" filter="url(#b2)"/>
<path d="M150,216 L188,214 L236,180 L238,170 L268,150 L268,100 L150,100 Z" fill="#f3e78f"/>
<path d="M190.1,212.7 L190.1,205.4 L185.2,199.3 L174.3,193.3 L182.8,198.1 L188.9,200.6 L196.0,194.5 L198.0,188.0 L201.0,178.0 L206.0,170.0 L212.0,164.0 L218.0,160.0 L220.0,153.0 L223.0,147.0 L229.0,142.0 L236.0,137.0 L242.0,132.0 L249.0,127.0 L257.0,122.0 L263.0,120.0 L259.8,118.8 L262.3,120.8 L269.0,120.8 L279.0,120.0 L283.2,115.0 L287.3,108.3 L292.3,104.2 L298.2,102.1 L302.3,102.1 L297.3,105.0 L291.5,108.3 L288.2,113.3 L284.8,118.3 L283.2,123.3 L279.8,126.7 L280.7,129.2 L285.7,132.5 L290.7,136.7 L298.2,140.0 L307.3,142.1 L314.8,145.4 L309.0,145.8 L302.3,143.3 L294.0,141.7 L285.7,141.7 L279.0,144.2 L272.3,141.7 L266.5,140.8 L260.7,141.7 L252.3,146.7 L244.0,153.3 L240.0,155.0 L234.0,158.0 L233.0,164.0 L234.0,170.0 L236.0,180.0 L234.0,190.0 L229.0,200.0 L224.0,208.0 L220.0,215.0 L216.8,223.7" fill="none" stroke="#2a186c" stroke-width="5" stroke-linejoin="round"/>
<path d="M268,112 L300,95 L340,95 L340,160 L268,150 Z" fill="#2a186c"/>
<path d="M96.2,484.2 L98.7,470.0 L108.7,460.0 L115.3,457.5 L122.0,458.3 L128.7,463.3 L135.3,466.7 L138.7,468.3 L132.0,470.0 L122.0,473.3 L115.3,475.8 L105.3,480.0 L98.7,485.0 Z" fill="#2a186c"/>
<path d="M237.3,269.9 L244.7,266.3 L255.0,263.3 L257.9,260.8 L260.8,256.7 L262.5,253.3 L265.0,248.3 L268.3,247.5 L273.3,245.0 L278.3,243.3 L281.7,241.7 L285.8,238.3 L290.0,235.0 L294.2,236.2 L297.5,229.2 L300.0,230.0 L303.3,229.2 L301.7,223.3 L303.3,217.5 L306.7,214.2 L310.8,212.5 L312.5,218.3 L315.0,211.7 L320.0,212.5 L326.7,214.2 L333.3,215.0 L339.2,212.5 L341.2,212.1" fill="none" stroke="#a8d46a" stroke-width="10" filter="url(#b4)"/>
<use href="#land"/>
<use href="#grid"/>
</g>
<rect x="52.5" y="64.5" width="287.0" height="441.0" fill="none" stroke="#000" stroke-width="1.1"/>
</g>
<g transform="translate(801,569)"><g clip-path="url(#clipP)">
<rect x="52.5" y="64.5" width="287.0" height="441.0" fill="#fff"/>
<g clip-path="url(#cDom3)">
<path d="M52,384.3 L55.6,391.6 L56.6,411.6 L70.7,422 L88.5,433.9 L103.3,442.8 L124.1,451.7 L143.0,451.7 L172.1,449.9 L204.9,442.6 L234.0,428.0 L255.9,406.2 L266.8,377.1 L270.4,340.7 L266.8,304.3 L261.3,275.1 L255.9,260.6 L234.0,238.7 L197.6,209.6 L161.2,209.6 Z" fill="#b3cddf"/>
<g filter="url(#b6)">
<ellipse cx="190" cy="255" rx="38" ry="22" fill="#e4e2e3"/>
<ellipse cx="150" cy="330" rx="14" ry="38" fill="#d3dee6" transform="rotate(40 150 330)"/>
<ellipse cx="190" cy="340" rx="12" ry="25" fill="#cddbe5" transform="rotate(40 190 340)"/>
</g>
<g filter="url(#b4)">
<ellipse cx="232" cy="300" rx="38" ry="9" fill="#3f78c0" transform="rotate(25 232 300)"/>
<ellipse cx="245" cy="385" rx="24" ry="20" fill="#2f6cc0"/>
<ellipse cx="225" cy="413" rx="42" ry="8" fill="#5a90c4" transform="rotate(-15 225 413)"/>
<ellipse cx="90" cy="387" rx="30" ry="13" fill="#3f7cc0" transform="rotate(-25 90 387)"/>
<ellipse cx="264" cy="330" rx="8" ry="20" fill="#4a84c4"/>
<ellipse cx="165" cy="440" rx="30" ry="8" fill="#6a9cc8" transform="rotate(-10 165 440)"/>
</g>
<g filter="url(#b2)">
<ellipse cx="223" cy="342" rx="6" ry="5" fill="#1a2f80"/>
<ellipse cx="160" cy="285" rx="7" ry="8" fill="#b85a3a"/>
<ellipse cx="163" cy="291" rx="3" ry="3" fill="#3c0912"/>
<ellipse cx="115" cy="440" rx="12" ry="4" fill="#cc8070"/>
<ellipse cx="58" cy="405" rx="4" ry="6" fill="#d09080"/>
<ellipse cx="150" cy="262" rx="6" ry="6" fill="#d8a090"/>
</g>
</g>
<path d="M150,245 L250,245 L250,150 L268,150 L268,100 L150,100 Z" fill="url(#g6up)"/>
<g clip-path="url(#cUp)"><g filter="url(#b2)">
<path d="M200,225 L215,195 L228,165 L245,140 L262,128" fill="none" stroke="#8fb4cf" stroke-width="4"/>
<ellipse cx="222" cy="205" rx="5" ry="9" fill="#9a2a26"/>
<ellipse cx="262" cy="130" rx="8" ry="4" fill="#1f3a8a"/>
<ellipse cx="240" cy="150" rx="4" ry="8" fill="#c06048"/>
<ellipse cx="205" cy="190" rx="4" ry="6" fill="#cc8a78"/>
</g></g>
<path d="M190.1,212.7 L190.1,205.4 L185.2,199.3 L174.3,193.3 L182.8,198.1 L188.9,200.6 L196.0,194.5 L198.0,188.0 L201.0,178.0 L206.0,170.0 L212.0,164.0 L218.0,160.0 L220.0,153.0 L223.0,147.0 L229.0,142.0 L236.0,137.0 L242.0,132.0 L249.0,127.0 L257.0,122.0 L263.0,120.0 L259.8,118.8 L262.3,120.8 L269.0,120.8 L279.0,120.0 L283.2,115.0 L287.3,108.3 L292.3,104.2 L298.2,102.1 L302.3,102.1 L297.3,105.0 L291.5,108.3 L288.2,113.3 L284.8,118.3 L283.2,123.3 L279.8,126.7 L280.7,129.2 L285.7,132.5 L290.7,136.7 L298.2,140.0 L307.3,142.1 L314.8,145.4 L309.0,145.8 L302.3,143.3 L294.0,141.7 L285.7,141.7 L279.0,144.2 L272.3,141.7 L266.5,140.8 L260.7,141.7 L252.3,146.7 L244.0,153.3 L240.0,155.0 L234.0,158.0 L233.0,164.0 L234.0,170.0 L236.0,180.0 L234.0,190.0 L229.0,200.0 L224.0,208.0 L220.0,215.0 L216.8,223.7" fill="none" stroke="#fff" stroke-width="4" stroke-linejoin="round"/>
<path d="M159.8,288.5 L152.5,282.4 L148.9,280.0 L136.8,280.5 L130.7,275.6 L133.1,266.0 L135.6,260.5 L141.6,255.1 L147.7,249.0 L153.7,240.5 L158.6,234.5 L167.1,226.0" fill="none" stroke="#fff" stroke-width="4" stroke-linejoin="round"/>
<path d="M268,112 L300,95 L340,95 L340,160 L268,150 Z" fill="#fff"/>
<use href="#land"/>
<use href="#grid"/>
</g>
<rect x="52.5" y="64.5" width="287.0" height="441.0" fill="none" stroke="#000" stroke-width="1.1"/>
</g>
<rect x="159.4" y="531.5" width="469.0" height="22.899999999999977" fill="url(#cmH)" stroke="#000" stroke-width="1.1"/>
<line x1="159.4" y1="554.4" x2="159.4" y2="559.2" stroke="#000" stroke-width="1.1"/>
<text x="159.4" y="575.9" font-size="14.17" text-anchor="middle" textLength="17.7" lengthAdjust="spacingAndGlyphs">28</text>
<line x1="253.2" y1="554.4" x2="253.2" y2="559.2" stroke="#000" stroke-width="1.1"/>
<text x="253.2" y="575.9" font-size="14.17" text-anchor="middle" textLength="17.7" lengthAdjust="spacingAndGlyphs">29</text>
<line x1="347.0" y1="554.4" x2="347.0" y2="559.2" stroke="#000" stroke-width="1.1"/>
<text x="347.0" y="575.9" font-size="14.17" text-anchor="middle" textLength="17.7" lengthAdjust="spacingAndGlyphs">30</text>
<line x1="440.8" y1="554.4" x2="440.8" y2="559.2" stroke="#000" stroke-width="1.1"/>
<text x="440.8" y="575.9" font-size="14.17" text-anchor="middle" textLength="17.7" lengthAdjust="spacingAndGlyphs">31</text>
<line x1="534.6" y1="554.4" x2="534.6" y2="559.2" stroke="#000" stroke-width="1.1"/>
<text x="534.6" y="575.9" font-size="14.17" text-anchor="middle" textLength="17.7" lengthAdjust="spacingAndGlyphs">32</text>
<line x1="628.4" y1="554.4" x2="628.4" y2="559.2" stroke="#000" stroke-width="1.1"/>
<text x="628.4" y="575.9" font-size="14.17" text-anchor="middle" textLength="17.7" lengthAdjust="spacingAndGlyphs">33</text>
<text x="393.0" y="595.0" font-size="14.17" text-anchor="middle" textLength="134.0" lengthAdjust="spacingAndGlyphs">20 m Salinity (PSU)</text>
<rect x="803.4" y="530.6" width="369.1" height="19.600000000000023" fill="url(#cmB)"/>
<path d="M1172.0,530.6 L1190.5,540.4000000000001 L1172.0,550.2 Z" fill="#3c0912"/>
<path d="M803.4,530.6 L1172.5,530.6 L1190.5,540.4000000000001 L1172.5,550.2 L803.4,550.2 Z" fill="none" stroke="#000" stroke-width="1.1" stroke-linejoin="miter"/>
<line x1="803.4" y1="550.2" x2="803.4" y2="555" stroke="#000" stroke-width="1.1"/>
<text x="803.4" y="571.7" font-size="14.17" text-anchor="middle" textLength="20.5" lengthAdjust="spacingAndGlyphs">−6</text>
<line x1="864.9" y1="550.2" x2="864.9" y2="555" stroke="#000" stroke-width="1.1"/>
<text x="864.9" y="571.7" font-size="14.17" text-anchor="middle" textLength="20.5" lengthAdjust="spacingAndGlyphs">−4</text>
<line x1="926.4" y1="550.2" x2="926.4" y2="555" stroke="#000" stroke-width="1.1"/>
<text x="926.4" y="571.7" font-size="14.17" text-anchor="middle" textLength="20.5" lengthAdjust="spacingAndGlyphs">−2</text>
<line x1="988.0" y1="550.2" x2="988.0" y2="555" stroke="#000" stroke-width="1.1"/>
<text x="988.0" y="571.7" font-size="14.17" text-anchor="middle" textLength="8.8" lengthAdjust="spacingAndGlyphs">0</text>
<line x1="1049.5" y1="550.2" x2="1049.5" y2="555" stroke="#000" stroke-width="1.1"/>
<text x="1049.5" y="571.7" font-size="14.17" text-anchor="middle" textLength="8.8" lengthAdjust="spacingAndGlyphs">2</text>
<line x1="1111.0" y1="550.2" x2="1111.0" y2="555" stroke="#000" stroke-width="1.1"/>
<text x="1111.0" y="571.7" font-size="14.17" text-anchor="middle" textLength="8.8" lengthAdjust="spacingAndGlyphs">4</text>
<line x1="1172.5" y1="550.2" x2="1172.5" y2="555" stroke="#000" stroke-width="1.1"/>
<text x="1172.5" y="571.7" font-size="14.17" text-anchor="middle" textLength="8.8" lengthAdjust="spacingAndGlyphs">6</text>
<text x="988.0" y="591.5" font-size="14.17" text-anchor="middle" textLength="134.0" lengthAdjust="spacingAndGlyphs">20 m Salinity (PSU)</text>
<rect x="159.4" y="1121.5" width="469.0" height="23.90000000000009" fill="url(#cmH)" stroke="#000" stroke-width="1.1"/>
<line x1="159.4" y1="1145.4" x2="159.4" y2="1150.2" stroke="#000" stroke-width="1.1"/>
<text x="159.4" y="1165.8" font-size="14.17" text-anchor="middle" textLength="22.1" lengthAdjust="spacingAndGlyphs">0.0</text>
<line x1="237.6" y1="1145.4" x2="237.6" y2="1150.2" stroke="#000" stroke-width="1.1"/>
<text x="237.6" y="1165.8" font-size="14.17" text-anchor="middle" textLength="22.1" lengthAdjust="spacingAndGlyphs">0.5</text>
<line x1="315.7" y1="1145.4" x2="315.7" y2="1150.2" stroke="#000" stroke-width="1.1"/>
<text x="315.7" y="1165.8" font-size="14.17" text-anchor="middle" textLength="22.1" lengthAdjust="spacingAndGlyphs">1.0</text>
<line x1="393.9" y1="1145.4" x2="393.9" y2="1150.2" stroke="#000" stroke-width="1.1"/>
<text x="393.9" y="1165.8" font-size="14.17" text-anchor="middle" textLength="22.1" lengthAdjust="spacingAndGlyphs">1.5</text>
<line x1="472.1" y1="1145.4" x2="472.1" y2="1150.2" stroke="#000" stroke-width="1.1"/>
<text x="472.1" y="1165.8" font-size="14.17" text-anchor="middle" textLength="22.1" lengthAdjust="spacingAndGlyphs">2.0</text>
<line x1="550.2" y1="1145.4" x2="550.2" y2="1150.2" stroke="#000" stroke-width="1.1"/>
<text x="550.2" y="1165.8" font-size="14.17" text-anchor="middle" textLength="22.1" lengthAdjust="spacingAndGlyphs">2.5</text>
<line x1="628.4" y1="1145.4" x2="628.4" y2="1150.2" stroke="#000" stroke-width="1.1"/>
<text x="628.4" y="1165.8" font-size="14.17" text-anchor="middle" textLength="22.1" lengthAdjust="spacingAndGlyphs">3.0</text>
<text x="390.7" y="1185.9" font-size="14.17" text-anchor="middle" textLength="91.4" lengthAdjust="spacingAndGlyphs">20 m Salinity</text>
<text x="395.7" y="1201.8" font-size="14.17" text-anchor="middle" textLength="176.7" lengthAdjust="spacingAndGlyphs">Standard Deviation (PSU)</text>
<rect x="821.2" y="1120.6" width="352.0" height="19.700000000000045" fill="url(#cmB)"/>
<path d="M1172.7,1120.6 L1190.5,1130.4499999999998 L1172.7,1140.3 Z" fill="#3c0912"/>
<path d="M821.7,1120.6 L803.4000000000001,1130.4499999999998 L821.7,1140.3 Z" fill="#181c43"/>
<path d="M821.2,1120.6 L1173.2,1120.6 L1190.5,1130.4499999999998 L1173.2,1140.3 L821.2,1140.3 L803.4000000000001,1130.4499999999998 Z" fill="none" stroke="#000" stroke-width="1.1" stroke-linejoin="miter"/>
<line x1="821.2" y1="1140.3" x2="821.2" y2="1145.1" stroke="#000" stroke-width="1.1"/>
<text x="821.2" y="1161.5" font-size="14.17" text-anchor="middle" textLength="33.7" lengthAdjust="spacingAndGlyphs">−2.0</text>
<line x1="865.2" y1="1140.3" x2="865.2" y2="1145.1" stroke="#000" stroke-width="1.1"/>
<text x="865.2" y="1161.5" font-size="14.17" text-anchor="middle" textLength="33.7" lengthAdjust="spacingAndGlyphs">−1.5</text>
<line x1="909.2" y1="1140.3" x2="909.2" y2="1145.1" stroke="#000" stroke-width="1.1"/>
<text x="909.2" y="1161.5" font-size="14.17" text-anchor="middle" textLength="33.7" lengthAdjust="spacingAndGlyphs">−1.0</text>
<line x1="953.2" y1="1140.3" x2="953.2" y2="1145.1" stroke="#000" stroke-width="1.1"/>
<text x="953.2" y="1161.5" font-size="14.17" text-anchor="middle" textLength="33.7" lengthAdjust="spacingAndGlyphs">−0.5</text>
<line x1="997.2" y1="1140.3" x2="997.2" y2="1145.1" stroke="#000" stroke-width="1.1"/>
<text x="997.2" y="1161.5" font-size="14.17" text-anchor="middle" textLength="22.1" lengthAdjust="spacingAndGlyphs">0.0</text>
<line x1="1041.2" y1="1140.3" x2="1041.2" y2="1145.1" stroke="#000" stroke-width="1.1"/>
<text x="1041.2" y="1161.5" font-size="14.17" text-anchor="middle" textLength="22.1" lengthAdjust="spacingAndGlyphs">0.5</text>
<line x1="1085.2" y1="1140.3" x2="1085.2" y2="1145.1" stroke="#000" stroke-width="1.1"/>
<text x="1085.2" y="1161.5" font-size="14.17" text-anchor="middle" textLength="22.1" lengthAdjust="spacingAndGlyphs">1.0</text>
<line x1="1129.2" y1="1140.3" x2="1129.2" y2="1145.1" stroke="#000" stroke-width="1.1"/>
<text x="1129.2" y="1161.5" font-size="14.17" text-anchor="middle" textLength="22.1" lengthAdjust="spacingAndGlyphs">1.5</text>
<line x1="1173.2" y1="1140.3" x2="1173.2" y2="1145.1" stroke="#000" stroke-width="1.1"/>
<text x="1173.2" y="1161.5" font-size="14.17" text-anchor="middle" textLength="22.1" lengthAdjust="spacingAndGlyphs">2.0</text>
<text x="994.7" y="1182.0" font-size="14.17" text-anchor="middle" textLength="91.4" lengthAdjust="spacingAndGlyphs">20 m Salinity</text>
<text x="998.9" y="1199.0" font-size="14.17" text-anchor="middle" textLength="176.7" lengthAdjust="spacingAndGlyphs">Standard Deviation (PSU)</text>
<text x="594.2" y="26.0" font-size="21.25" text-anchor="middle" textLength="286.7" lengthAdjust="spacingAndGlyphs">October 2007 20 m Salinity</text>
<text x="196.0" y="50.0" font-size="17.00" text-anchor="middle" textLength="49.6" lengthAdjust="spacingAndGlyphs">CIOFS</text>
<text x="591.9" y="55.7" font-size="17.00" text-anchor="middle" textLength="66.1" lengthAdjust="spacingAndGlyphs">NWGOA</text>
<text x="997.2" y="55.6" font-size="17.00" text-anchor="middle" textLength="132.3" lengthAdjust="spacingAndGlyphs">CIOFS - NWGOA</text>
<text x="27.4" y="70.1" font-size="14.17" text-anchor="middle" textLength="35.0" lengthAdjust="spacingAndGlyphs">62°N</text>
<text x="27.4" y="143.8" font-size="14.17" text-anchor="middle" textLength="35.0" lengthAdjust="spacingAndGlyphs">61°N</text>
<text x="27.4" y="217.1" font-size="14.17" text-anchor="middle" textLength="35.0" lengthAdjust="spacingAndGlyphs">60°N</text>
<text x="27.4" y="290.4" font-size="14.17" text-anchor="middle" textLength="35.0" lengthAdjust="spacingAndGlyphs">59°N</text>
<text x="27.4" y="363.7" font-size="14.17" text-anchor="middle" textLength="35.0" lengthAdjust="spacingAndGlyphs">58°N</text>
<text x="27.4" y="437.0" font-size="14.17" text-anchor="middle" textLength="35.0" lengthAdjust="spacingAndGlyphs">57°N</text>
<text x="27.4" y="638.0" font-size="14.17" text-anchor="middle" textLength="35.0" lengthAdjust="spacingAndGlyphs">62°N</text>
<text x="27.4" y="711.7" font-size="14.17" text-anchor="middle" textLength="35.0" lengthAdjust="spacingAndGlyphs">61°N</text>
<text x="27.4" y="785.0" font-size="14.17" text-anchor="middle" textLength="35.0" lengthAdjust="spacingAndGlyphs">60°N</text>
<text x="27.4" y="858.3" font-size="14.17" text-anchor="middle" textLength="35.0" lengthAdjust="spacingAndGlyphs">59°N</text>
<text x="27.4" y="931.6" font-size="14.17" text-anchor="middle" textLength="35.0" lengthAdjust="spacingAndGlyphs">58°N</text>
<text x="27.4" y="1004.9" font-size="14.17" text-anchor="middle" textLength="35.0" lengthAdjust="spacingAndGlyphs">57°N</text>
<text x="52.3" y="1092.0" font-size="14.17" text-anchor="middle" textLength="47.2" lengthAdjust="spacingAndGlyphs">156°W</text>
<text x="134.3" y="1092.0" font-size="14.17" text-anchor="middle" textLength="47.2" lengthAdjust="spacingAndGlyphs">154°W</text>
<text x="216.3" y="1092.0" font-size="14.17" text-anchor="middle" textLength="47.2" lengthAdjust="spacingAndGlyphs">152°W</text>
<text x="298.0" y="1092.0" font-size="14.17" text-anchor="middle" textLength="47.2" lengthAdjust="spacingAndGlyphs">150°W</text>
<text x="448.3" y="1092.0" font-size="14.17" text-anchor="middle" textLength="47.2" lengthAdjust="spacingAndGlyphs">156°W</text>
<text x="530.3" y="1092.0" font-size="14.17" text-anchor="middle" textLength="47.2" lengthAdjust="spacingAndGlyphs">154°W</text>
<text x="612.3" y="1092.0" font-size="14.17" text-anchor="middle" textLength="47.2" lengthAdjust="spacingAndGlyphs">152°W</text>
<text x="694.0" y="1092.0" font-size="14.17" text-anchor="middle" textLength="47.2" lengthAdjust="spacingAndGlyphs">150°W</text>
<text x="853.3" y="1092.0" font-size="14.17" text-anchor="middle" textLength="47.2" lengthAdjust="spacingAndGlyphs">156°W</text>
<text x="935.3" y="1092.0" font-size="14.17" text-anchor="middle" textLength="47.2" lengthAdjust="spacingAndGlyphs">154°W</text>
<text x="1017.3" y="1092.0" font-size="14.17" text-anchor="middle" textLength="47.2" lengthAdjust="spacingAndGlyphs">152°W</text>
<text x="1099.0" y="1092.0" font-size="14.17" text-anchor="middle" textLength="47.2" lengthAdjust="spacingAndGlyphs">150°W</text>
</svg></body></html>
